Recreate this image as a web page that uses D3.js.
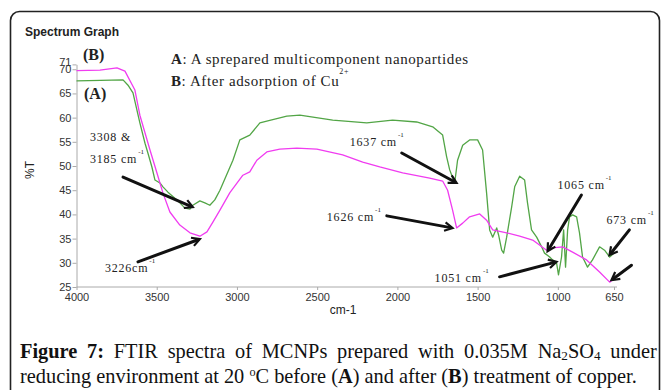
<!DOCTYPE html>
<html>
<head>
<meta charset="utf-8">
<script src="https://cdn.jsdelivr.net/npm/d3@7"></script>
<style>
  body { margin: 0; background: #fff; }
  svg { display: block; }
</style>
</head>
<body>
<svg id="chart" width="661" height="390"></svg>
<script>
// FTIR spectra, before (A) and after (B) Cu2+ adsorption
// values (wavenumber cm-1, %T)

const wavenumberA = [4000,3850,3710,3679,3648,3605,3573,3555,3530,3511,3480,3461,3430,3374,3324,3293,3275,3231,3200,3169,
  3138,3106,3025,2982,2920,2857,2814,2689,2608,2403,2191,2030,1880,1780,1718,1693,1674,1643,1625,1593,
  1550,1500,1469,1444,1425,1406,1381,1369,1350,1338,1319,1288,1269,1238,1207,1189,1164,1132,1101,1083,
  1051,1033,1008,996,977,964,952,939,927,908,883,865,846,815,784,740,709,677,650];
const transA = [67.6,67.7,67.8,66.7,65.1,58.9,54.7,52.7,49.8,47.1,46.5,45.7,44.6,43.0,41.3,41.1,41.9,42.8,42.4,41.9,
  43.0,45.0,51.2,55.4,56.4,58.9,59.3,60.3,60.5,59.5,58.9,59.5,59.1,58.1,56.4,51.9,49.2,46.5,51.2,54.3,
  55.4,55.4,53.3,44.4,36.8,35.3,37.2,35.7,32.6,32.0,35.3,41.5,45.7,47.9,47.1,42.4,36.8,35.3,33.3,32.0,
  31.2,30.6,30.0,27.5,31.2,36.8,29.1,36.8,39.5,39.9,39.5,36.2,31.2,29.1,30.6,33.3,32.6,31.2,32.0];

const wavenumberB = [4000,3854,3748,3698,3636,3605,3542,3499,3461,3418,3356,3293,3231,3187,3150,3106,3044,2963,2920,2876,
  2814,2733,2627,2502,2341,2216,2110,1967,1799,1718,1687,1656,1631,1593,1550,1487,1444,1406,1319,1238,
  1157,1070,1033,970,908,821,740,677,650];
const transB = [69.7,69.8,70.3,69.6,65.7,60.5,53.3,48.6,44.4,40.5,37.8,36.2,35.5,36.4,38.4,40.9,44.5,48.1,48.8,51.2,
  52.9,53.5,53.7,53.5,52.3,50.8,49.8,48.6,47.5,46.9,45.0,40.9,37.2,38.2,39.5,40.1,38.8,36.8,36.2,35.5,
  34.7,32.6,33.1,33.3,32.2,30.6,28.1,26.0,26.7];

const xTicks = [4000, 3500, 3000, 2500, 2000, 1500, 1000, 650];
const yTicks = [25, 30, 35, 40, 45, 50, 55, 60, 65, 70, 71];

// peak labels: text, where the label starts (wavenumber, %T), arrow from -> to
const peakLabels = [
  {text: '3308 &', w: 3916, t: 55.2, sup: ''},
  {text: '3185 cm', w: 3916, t: 50.6, sup: '-1'},
  {text: '3226cm', w: 3823, t: 28.1, sup: '-1'},
  {text: '1637 cm', w: 2297, t: 54.1, sup: '-1'},
  {text: '1626 cm', w: 2440, t: 38.6, sup: '-1'},
  {text: '1065 cm', w: 1002, t: 45.2, sup: '-1'},
  {text: '673 cm', w: 697, t: 38.0, sup: '-1'},
  {text: '1051 cm', w: 1768, t: 26.0, sup: '-1'}
];
const arrows = [
  {w0: 3710, t0: 47.7, w1: 3275, t1: 41.5},
  {w0: 3617, t0: 30.2, w1: 3231, t1: 34.9},
  {w0: 1973, t0: 52.7, w1: 1631, t1: 46.5},
  {w0: 2066, t0: 39.7, w1: 1656, t1: 37.2},
  {w0: 853, t0: 44.0, w1: 1064, t1: 32.4},
  {w0: 554, t0: 36.8, w1: 678, t1: 31.6},
  {w0: 541, t0: 29.5, w1: 666, t1: 26.4},
  {w0: 1363, t0: 27.1, w1: 1008, t1: 30.2}
];

const svg = d3.select('#chart');

// outer frame
svg.append('rect')
  .attr('x', 10.5).attr('y', 11.5)
  .attr('width', 649).attr('height', 420)
  .attr('rx', 9)
  .attr('fill', 'none')
  .attr('stroke', '#222')
  .attr('stroke-width', 1.6);

svg.append('text')
  .attr('x', 25).attr('y', 36)
  .style('font-family', 'Liberation Sans, Arial, sans-serif')
  .style('font-size', '12px')
  .style('font-weight', 'bold')
  .attr('fill', '#222')
  .text('Spectrum Graph');

const x = d3.scaleLinear().domain([4000, 650]).range([76.5, 614]);
const y = d3.scaleLinear().domain([25, 71]).range([287, 64.4]);

// axes
const xAxis = svg.append('g')
  .attr('transform', 'translate(0,287)')
  .call(d3.axisBottom(x).tickValues(xTicks).tickFormat(d3.format('d')).tickSize(3).tickSizeOuter(0).tickPadding(3));
const yAxis = svg.append('g')
  .attr('transform', 'translate(76.5,0)')
  .call(d3.axisLeft(y).tickValues(yTicks).tickFormat(d3.format('d')).tickSize(4).tickSizeOuter(0).tickPadding(1));

[xAxis, yAxis].forEach(g => {
  g.select('.domain').attr('stroke', '#aaa');
  g.selectAll('.tick line').attr('stroke', '#aaa');
  g.selectAll('.tick text')
    .attr('fill', '#333')
    .style('font-family', 'Liberation Sans, Arial, sans-serif')
    .style('font-size', '11px');
});
xAxis.select('.domain').attr('d', `M76.5,0H617`);
// 71 sits right on top of 70, lift it a touch
yAxis.selectAll('.tick').filter(d => d === 71).select('text').attr('dy', '0.1em');

svg.append('text')
  .attr('x', 343).attr('y', 314)
  .attr('text-anchor', 'middle')
  .style('font-family', 'Liberation Sans, Arial, sans-serif')
  .style('font-size', '12px')
  .attr('fill', '#222')
  .text('cm-1');

svg.append('text')
  .attr('transform', 'translate(34,170) rotate(-90)')
  .attr('text-anchor', 'middle')
  .style('font-family', 'Liberation Sans, Arial, sans-serif')
  .style('font-size', '12px')
  .attr('fill', '#222')
  .text('%T');

// spectra
const line = d3.line()
  .x(d => x(d[0]))
  .y(d => y(d[1]));

svg.append('path')
  .datum(d3.zip(wavenumberA, transA))
  .attr('fill', 'none')
  .attr('stroke', '#52a546')
  .attr('stroke-width', 1.3)
  .attr('stroke-linejoin', 'round')
  .attr('d', line);

svg.append('path')
  .datum(d3.zip(wavenumberB, transB))
  .attr('fill', 'none')
  .attr('stroke', '#f03cf0')
  .attr('stroke-width', 1.3)
  .attr('stroke-linejoin', 'round')
  .attr('d', line);

// series tags and legend
const serif = 'Liberation Serif, Times New Roman, serif';
svg.append('text').attr('x', 83).attr('y', 60)
  .style('font-family', serif).style('font-size', '16px').style('font-weight', 'bold')
  .attr('fill', '#222').text('(B)');
svg.append('text').attr('x', 84).attr('y', 99)
  .style('font-family', serif).style('font-size', '16px').style('font-weight', 'bold')
  .attr('fill', '#222').text('(A)');

const legA = svg.append('text').attr('x', 171).attr('y', 64)
  .style('font-family', serif).style('font-size', '15px').style('letter-spacing', '0.6px')
  .attr('fill', '#222');
legA.append('tspan').style('font-weight', 'bold').text('A');
legA.append('tspan').text(': A sprepared multicomponent nanopartides');

const legB = svg.append('text').attr('x', 171).attr('y', 86)
  .style('font-family', serif).style('font-size', '15px').style('letter-spacing', '0.6px')
  .attr('fill', '#222');
legB.append('tspan').style('font-weight', 'bold').text('B');
legB.append('tspan').text(': After adsorption of Cu');
legB.append('tspan').attr('dy', -12).style('font-size', '8px').text('2+');

// peak labels
peakLabels.forEach(p => {
  const t = svg.append('text')
    .attr('x', x(p.w)).attr('y', y(p.t))
    .style('font-family', serif)
    .style('font-size', '12px')
    .style('letter-spacing', '0.8px')
    .attr('fill', '#222');
  t.append('tspan').text(p.text);
  if (p.sup) {
    t.append('tspan').attr('dy', -9).attr('dx', 1)
      .style('font-size', '7px').style('letter-spacing', '0px').text(p.sup);
  }
});

// arrows
arrows.forEach(a => {
  const x0 = x(a.w0), y0 = y(a.t0), x1 = x(a.w1), y1 = y(a.t1);
  const ang = Math.atan2(y1 - y0, x1 - x0);
  const L = 9, spread = 0.5;
  const hx1 = x1 - L * Math.cos(ang - spread), hy1 = y1 - L * Math.sin(ang - spread);
  const hx2 = x1 - L * Math.cos(ang + spread), hy2 = y1 - L * Math.sin(ang + spread);
  svg.append('line')
    .attr('x1', x0).attr('y1', y0).attr('x2', x1 - 2 * Math.cos(ang)).attr('y2', y1 - 2 * Math.sin(ang))
    .attr('stroke', '#111').attr('stroke-width', 3).attr('stroke-linecap', 'round');
  svg.append('path')
    .attr('d', `M${hx1},${hy1}L${x1},${y1}L${hx2},${hy2}`)
    .attr('fill', 'none').attr('stroke', '#111').attr('stroke-width', 2.2)
    .attr('stroke-linejoin', 'miter');
});

// caption: line 2 sets the size, line 1 is justified by widening the spaces
function captionLine(yPos, fs) {
  return svg.append('text').attr('x', 20).attr('y', yPos)
    .style('font-family', serif).style('font-size', fs + 'px').attr('fill', '#111');
}
function fillCap2(t, fs) {
  t.append('tspan').text('reducing environment at 20 ');
  t.append('tspan').attr('dy', -0.35 * fs).style('font-size', (0.6 * fs) + 'px').text('o');
  t.append('tspan').attr('dy', 0.35 * fs).text('C before (');
  t.append('tspan').style('font-weight', 'bold').text('A');
  t.append('tspan').text(') and after (');
  t.append('tspan').style('font-weight', 'bold').text('B');
  t.append('tspan').text(') treatment of copper.');
}
function fillCap1(t, fs) {
  t.append('tspan').style('font-weight', 'bold').text('Figure 7:');
  t.append('tspan').text(' FTIR spectra of MCNPs prepared with 0.035M Na');
  t.append('tspan').attr('dy', 2).style('font-size', (0.65 * fs) + 'px').text('2');
  t.append('tspan').attr('dy', -2).text('SO');
  t.append('tspan').attr('dy', 2).style('font-size', (0.65 * fs) + 'px').text('4');
  t.append('tspan').attr('dy', -2).text(' under');
}

let fs = 18;
let cap2 = captionLine(383, fs);
fillCap2(cap2, fs);
const len2 = cap2.node().getComputedTextLength();
fs = fs * 617 / len2;
cap2.remove();
cap2 = captionLine(383, fs);
fillCap2(cap2, fs);

const cap1 = captionLine(358, fs);
fillCap1(cap1, fs);
const len1 = cap1.node().getComputedTextLength();
const gap = Math.max(0, (632 - len1) / 9);
cap1.style('word-spacing', gap + 'px');
</script>
</body>
</html>
